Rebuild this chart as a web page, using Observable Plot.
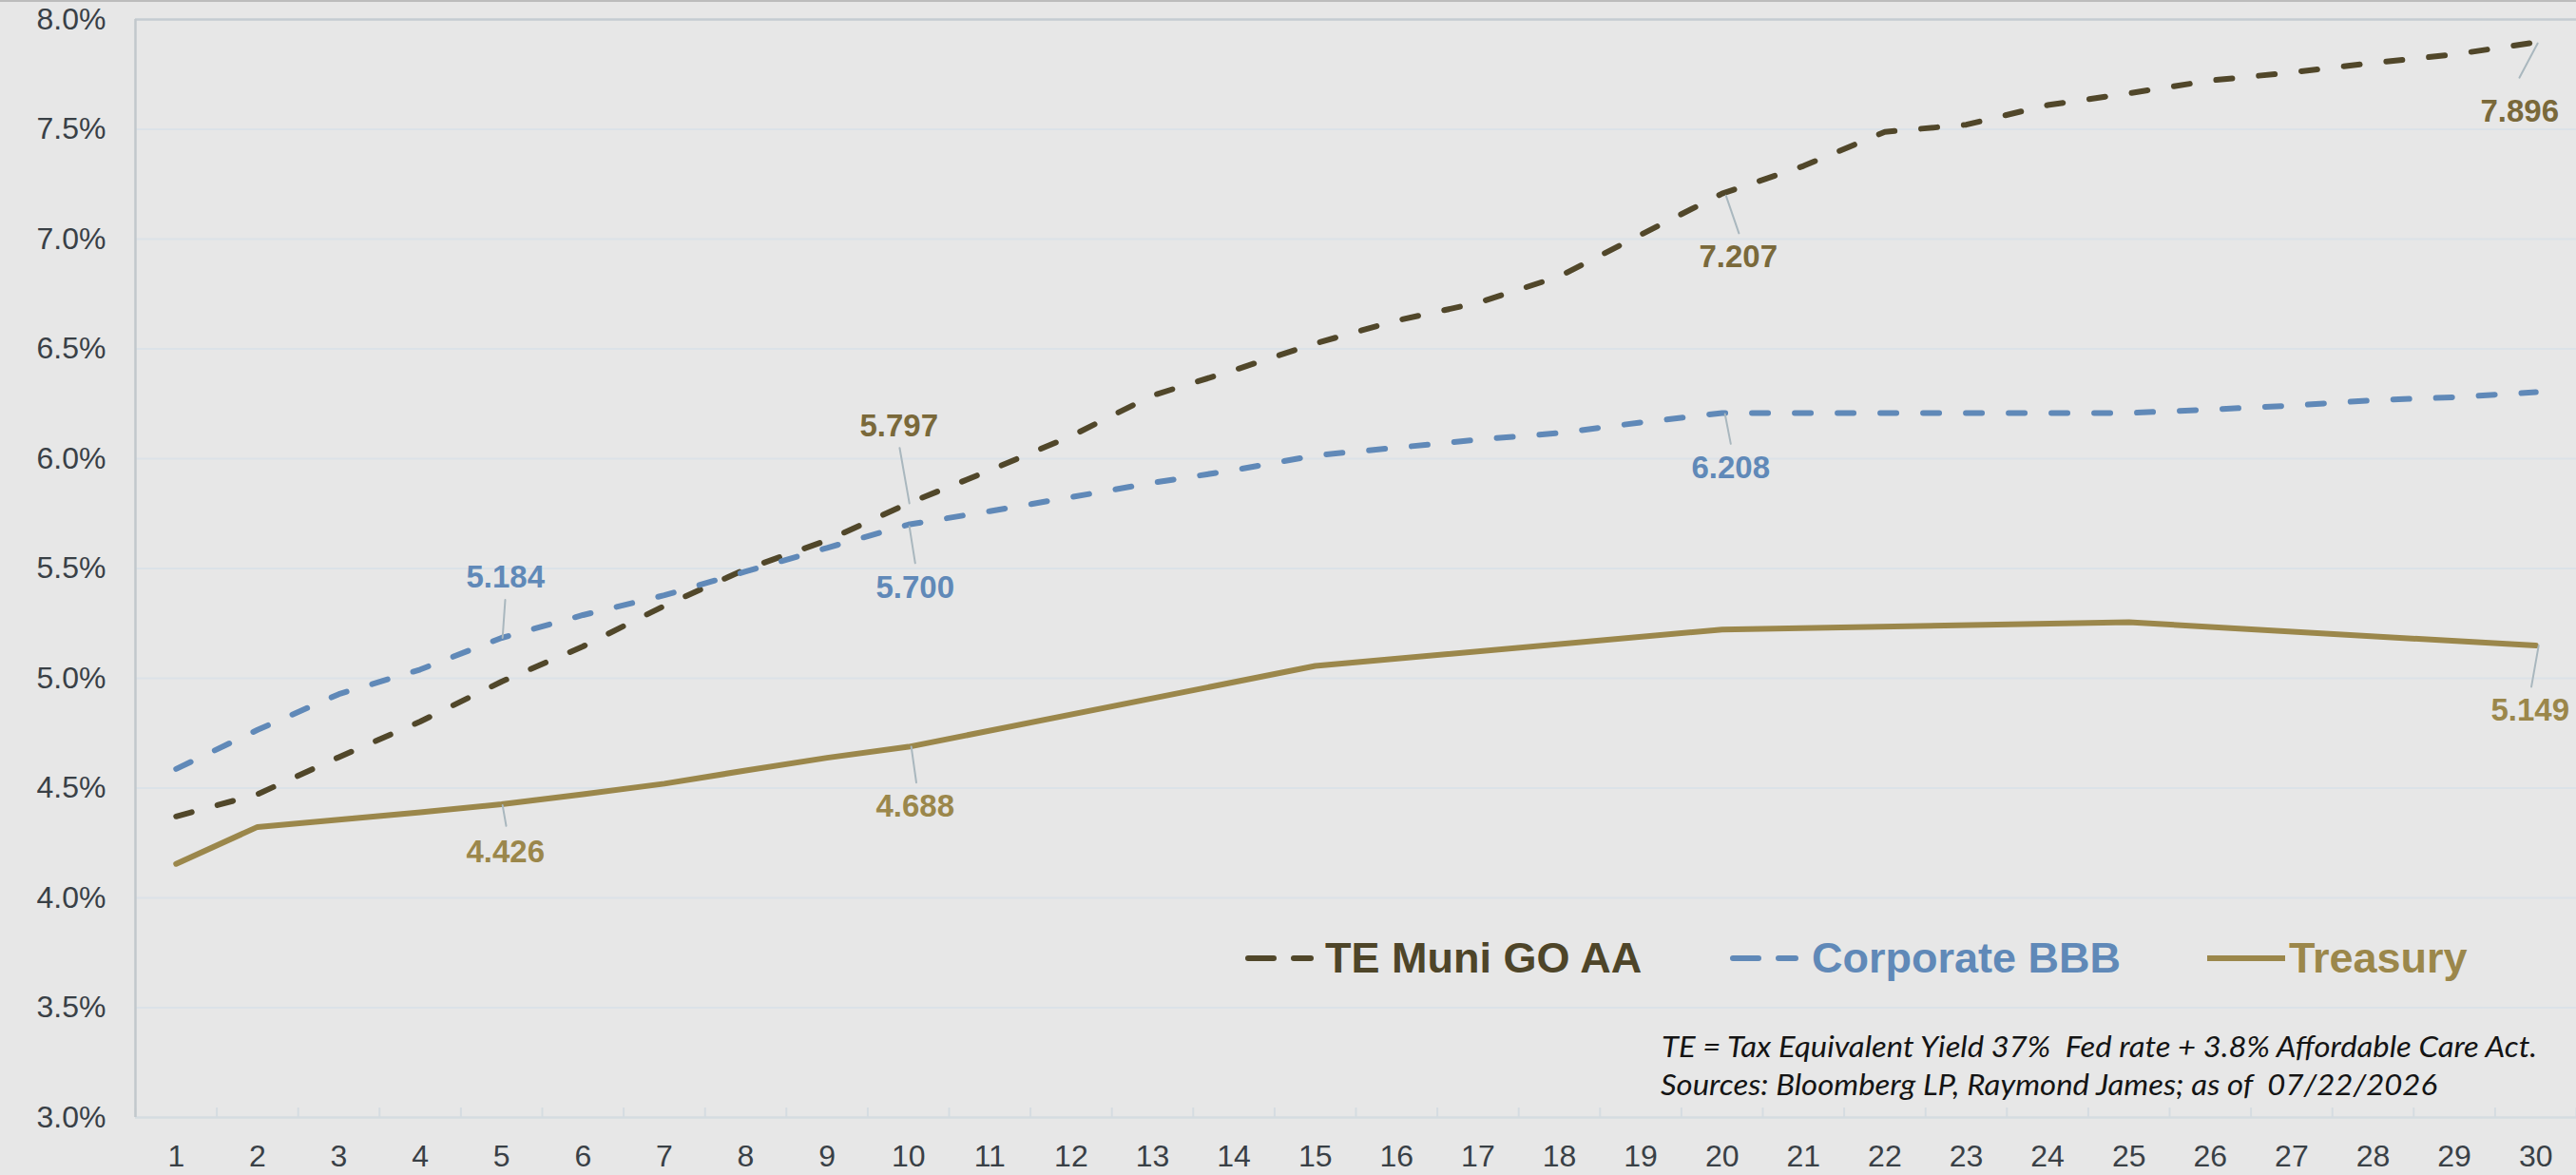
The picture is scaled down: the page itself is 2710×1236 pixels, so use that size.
<!DOCTYPE html>
<html>
<head>
<meta charset="utf-8">
<script src="https://cdn.jsdelivr.net/npm/d3@7"></script>
<script src="https://cdn.jsdelivr.net/npm/@observablehq/plot@0.6"></script>
<style>
  html, body { margin: 0; padding: 0; background: #e7e7e7; }
  #chart { position: relative; width: 2710px; height: 1236px; overflow: hidden; background: #e7e7e7; }
  #chart > svg { position: absolute; left: 0; top: 0; }
  #topline { position: absolute; left: 0; top: 0; width: 100%; height: 2px; background: #bcbcbc; }
  .note text { white-space: pre; }
</style>
</head>
<body>
<div id="chart"><div id="topline"></div></div>
<script>
// Maturity in years (x axis categories)
const years = d3.range(1, 31);

// Yields in percent
const muniYield = [4.371, 4.472, 4.641, 4.803, 4.985, 5.145, 5.330, 5.497, 5.628, 5.797,
                   5.947, 6.103, 6.288, 6.403, 6.525, 6.629, 6.710, 6.830, 7.020, 7.207,
                   7.333, 7.488, 7.521, 7.610, 7.664, 7.722, 7.759, 7.802, 7.841, 7.896];
const corpYield = [4.587, 4.765, 4.928, 5.040, 5.184, 5.288, 5.378, 5.486, 5.594, 5.700,
                   5.761, 5.825, 5.890, 5.948, 6.015, 6.050, 6.087, 6.117, 6.165, 6.208,
                   6.208, 6.208, 6.208, 6.208, 6.208, 6.224, 6.242, 6.266, 6.280, 6.303];
const treasuryYears = [1, 2, 3, 4, 5, 6, 7, 8, 9, 10, 15, 20, 25, 30];
const treasuryYield = [4.155, 4.323, 4.356, 4.390, 4.426, 4.472, 4.520, 4.580, 4.638, 4.688,
                       5.056, 5.222, 5.255, 5.149];

const yTicks = [3, 3.5, 4, 4.5, 5, 5.5, 6, 6.5, 7, 7.5, 8];
const seriesNames = ["TE Muni GO AA", "Corporate BBB", "Treasury"];
const captionLines = [
  "TE = Tax Equivalent Yield 37%  Fed rate + 3.8% Affordable Care Act.",
  "Sources: Bloomberg LP, Raymond James; as of  07/22/2026"
];

// Series tables
const muni = years.map((year, i) => ({year, value: muniYield[i]}));
const corp = years.map((year, i) => ({year, value: corpYield[i]}));
const treasury = treasuryYears.map((year, i) => ({year, value: treasuryYield[i]}));
const tables = {muni, corp, treasury};

// Colours
const color = {muni: "#51472a", corp: "#6089b8", treasury: "#9b874b"};
const labelColor = {muni: "#7a693a", corp: "#6089b8", treasury: "#9b874b"};
const legendColor = {muni: "#4e4529", corp: "#6089b8", treasury: "#9b874b"};
const dash = "17,28";
const lineWidth = 6;

// Value callouts: label offset from the point, and the leader line drawn from it
const callouts = [
  {series: "corp",     year: 5,  dx: 4,   dy: -64, lx: 1, ly: 0, len: 40, angle: 4},
  {series: "treasury", year: 5,  dx: 4,   dy: 50,  lx: 1, ly: 1, len: 22, angle: 170},
  {series: "muni",     year: 10, dx: -10, dy: -81, lx: 1, ly: 0, len: 59, angle: -10},
  {series: "corp",     year: 10, dx: 7,   dy: 67,  lx: 1, ly: 2, len: 39, angle: 171},
  {series: "treasury", year: 10, dx: 7,   dy: 63,  lx: 3, ly: 0, len: 38, angle: 172},
  {series: "muni",     year: 20, dx: 17,  dy: 67,  lx: 4, ly: 2, len: 42, angle: 161},
  {series: "corp",     year: 20, dx: 9,   dy: 58,  lx: 3, ly: 1, len: 32, angle: 169},
  {series: "muni",     year: 30, dx: -17, dy: 73,  lx: 2, ly: 1, len: 41, angle: 208},
  {series: "treasury", year: 30, dx: -6,  dy: 68,  lx: 3, ly: 0, len: 44, angle: 190}
];

const calloutMarks = callouts.flatMap(c => {
  const pt = tables[c.series].filter(d => d.year === c.year);
  return [
    Plot.vector(pt, {x: "year", y: "value", length: c.len, rotate: c.angle, anchor: "start", r: 0,
                     dx: c.lx, dy: c.ly, stroke: "#a9b7be", strokeWidth: 2}),
    Plot.text(pt, {x: "year", y: "value", text: d => d.value.toFixed(3), dx: c.dx, dy: c.dy,
                   fill: labelColor[c.series], fontSize: 33, fontWeight: "bold"})
  ];
});

const gridColor = "#dbe2e8";
const boundaries = d3.range(0.5, 31, 1);

const chart = Plot.plot({
  width: 2710,
  height: 1236,
  marginTop: 20,
  marginLeft: 142,
  marginRight: 0,
  marginBottom: 61,
  style: {
    background: "transparent",
    fontFamily: "'Liberation Sans', Arial, sans-serif",
    fontSize: "32px",
    color: "#394046"
  },
  x: {domain: [0.5, 30.5], ticks: years, tickSize: 0, tickPadding: 29, label: null, tickFormat: d => String(d)},
  y: {domain: [3, 8], ticks: yTicks, tickSize: 0, tickPadding: 31, label: null, tickFormat: d => d.toFixed(1) + "%"},
  marks: [
    Plot.ruleY(yTicks.filter(v => v > 3 && v < 8), {stroke: gridColor, strokeWidth: 2}),
    Plot.ruleY([8], {stroke: "#c5ccd2", strokeWidth: 2.5}),
    Plot.ruleY([3], {stroke: "#d5dce1", strokeWidth: 2.5}),
    Plot.ruleX(boundaries, {y1: 3, y2: 3, insetTop: -10, stroke: "#d5dce1", strokeWidth: 2}),
    Plot.ruleX([0.5], {stroke: "#c2c8cc", strokeWidth: 2.5}),
    Plot.line(muni, {x: "year", y: "value", stroke: color.muni, strokeWidth: lineWidth,
                     strokeDasharray: dash, strokeLinecap: "round"}),
    Plot.line(corp, {x: "year", y: "value", stroke: color.corp, strokeWidth: lineWidth,
                     strokeDasharray: dash, strokeLinecap: "round"}),
    Plot.line(treasury, {x: "year", y: "value", stroke: color.treasury, strokeWidth: lineWidth}),
    ...calloutMarks
  ]
});
document.getElementById("chart").appendChild(chart);

// Legend and source note, overlaid on the lower part of the plot area
const overlay = d3.select("#chart").append("svg")
  .attr("width", 2710).attr("height", 1236)
  .style("pointer-events", "none")
  .style("font-family", "'Liberation Sans', Arial, sans-serif");

const legendItems = [
  {key: "muni", name: seriesNames[0], x1: 1313, x2: 1379, tx: 1394, dashed: true},
  {key: "corp", name: seriesNames[1], x1: 1823, x2: 1889, tx: 1906, dashed: true},
  {key: "treasury", name: seriesNames[2], x1: 2322, x2: 2404, tx: 2408, dashed: false}
];
const lg = overlay.append("g");
lg.selectAll("line").data(legendItems).join("line")
  .attr("x1", d => d.x1).attr("x2", d => d.x2)
  .attr("y1", 1008).attr("y2", 1008)
  .attr("stroke", d => color[d.key]).attr("stroke-width", 6)
  .attr("stroke-linecap", d => d.dashed ? "round" : "butt")
  .attr("stroke-dasharray", d => d.dashed ? "27,21" : null);
lg.selectAll("text").data(legendItems).join("text")
  .attr("x", d => d.tx).attr("y", 1023)
  .attr("font-size", 45).attr("font-weight", "bold")
  .attr("fill", d => legendColor[d.key])
  .text(d => d.name);

const cap = overlay.append("g")
  .attr("class", "note")
  .attr("font-family", "Lato, 'Open Sans', sans-serif")
  .attr("font-style", "italic")
  .attr("font-size", 31)
  .attr("fill", "#141414");
const capLayout = [{x: 1748, y: 1112, w: 921}, {x: 1747, y: 1152, w: 817}];
cap.selectAll("text").data(captionLines).join("text")
  .attr("xml:space", "preserve")
  .attr("x", (d, i) => capLayout[i].x)
  .attr("y", (d, i) => capLayout[i].y)
  .attr("textLength", (d, i) => capLayout[i].w)
  .attr("lengthAdjust", "spacingAndGlyphs")
  .text(d => d);
</script>
</body>
</html>
